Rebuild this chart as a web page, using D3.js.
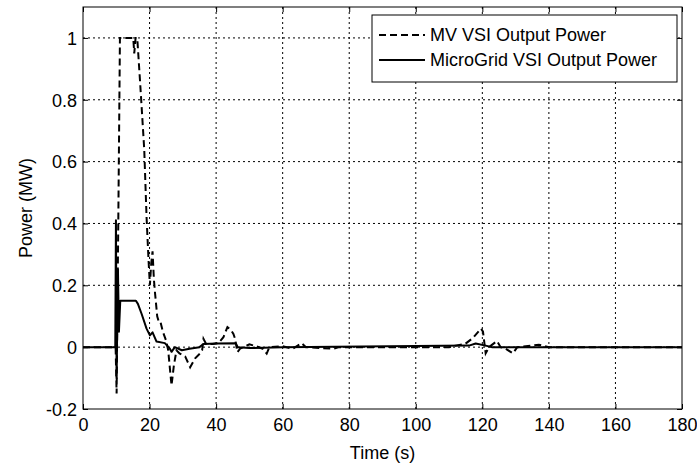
<!DOCTYPE html>
<html>
<head>
<meta charset="utf-8">
<script src="https://cdn.jsdelivr.net/npm/d3@7"></script>
<style>
  body { margin: 0; background: #fff; }
  svg text { font-family: "Liberation Sans", Arial, sans-serif; fill: #000; }
</style>
</head>
<body>
<svg id="chart" width="697" height="466"></svg>
<script>
// values: [time (s), power (MW)]
const mvSeries = [
  [0, 0], [9.8, 0], [10.1, -0.15], [10.6, 0.4], [11.1, 1.0], [15.1, 1.0], [15.4, 0.95],
  [15.8, 1.0], [16.3, 1.0], [17.2, 0.85], [18.4, 0.64], [19.1, 0.42], [19.7, 0.28],
  [20.1, 0.2], [20.5, 0.27], [20.9, 0.31], [21.3, 0.22], [21.6, 0.18], [22.3, 0.1],
  [22.7, 0.085], [23.2, 0.085], [24, 0.05], [25, 0.02], [25.6, -0.01], [26.6, -0.124],
  [27.3, -0.06], [28.1, -0.01], [29, -0.02], [30.7, -0.03], [32.2, -0.065], [33.7, -0.036],
  [35.2, -0.02], [35.8, -0.01], [36.2, 0.027], [37, 0.01], [39, 0.01], [40.7, 0.013],
  [42.2, 0.032], [43.4, 0.065], [44.5, 0.055], [45.2, 0.043], [45.7, 0.027], [46.4, -0.016],
  [47.2, -0.005], [50, 0.009], [52, 0.003], [54, -0.005], [55.2, -0.021], [56, 0],
  [60, 0.003], [63, -0.005], [65.7, 0.013], [67, 0], [75.2, -0.005], [77, 0], [110, 0],
  [112, 0.005], [114.8, 0.01], [117.2, 0.03], [119.6, 0.06], [120.2, 0.05], [121, -0.02],
  [122, 0], [124.4, 0.02], [125.5, 0], [127, -0.005], [129.2, -0.02], [130.5, 0],
  [135, 0.005], [137, 0.008], [140, 0], [180, 0]
];
const mgSeries = [
  [0, 0], [9.7, 0], [9.9, 0.41], [10.1, -0.1], [10.5, 0.25], [10.8, 0.05], [11.2, 0.15],
  [15.9, 0.15], [16.5, 0.14], [17.6, 0.108], [19.1, 0.06], [20.1, 0.038], [20.9, 0.048],
  [22.1, 0.018], [24.6, 0.013], [26.1, -0.005], [26.6, -0.015], [27.6, 0], [29.7, -0.01],
  [32, -0.005], [35, 0], [36.2, 0.01], [40, 0.012], [45.9, 0.013], [46.5, 0], [50, -0.003],
  [60, 0], [116, 0.005], [118, 0.012], [121, 0.005], [123, 0], [180, 0]
];
const xTicks = [0, 20, 40, 60, 80, 100, 120, 140, 160, 180];
const yTicks = [-0.2, 0, 0.2, 0.4, 0.6, 0.8, 1];
const legendLabels = ["MV VSI Output Power", "MicroGrid VSI Output Power"];

const svg = d3.select("#chart");
const margin = { top: 7, right: 15, bottom: 57, left: 83 };
const w = 697 - margin.left - margin.right, h = 466 - margin.top - margin.bottom;
const g = svg.append("g").attr("transform", `translate(${margin.left},${margin.top})`);

const x = d3.scaleLinear().domain([0, 180]).range([0, w]);
const y = d3.scaleLinear().domain([-0.2, 1.1]).range([h, 0]);

// grid
g.append("g").selectAll("line").data(xTicks.slice(1, -1)).enter().append("line")
  .attr("x1", d => x(d)).attr("x2", d => x(d)).attr("y1", 0).attr("y2", h)
  .attr("stroke", "#000").attr("stroke-width", 1).attr("stroke-dasharray", "2,3");
g.append("g").selectAll("line").data(yTicks.slice(1)).enter().append("line")
  .attr("x1", 0).attr("x2", w).attr("y1", d => y(d)).attr("y2", d => y(d))
  .attr("stroke", "#000").attr("stroke-width", 1).attr("stroke-dasharray", "2,3");

// axes, ticks inward on all sides
const fmt = d => String(+d.toFixed(1));
const axB = g.append("g").attr("transform", `translate(0,${h})`)
  .call(d3.axisBottom(x).tickValues(xTicks).tickSize(-5).tickPadding(9).tickFormat(d3.format("d")));
const axL = g.append("g").call(d3.axisLeft(y).tickValues(yTicks).tickSize(-5).tickPadding(6).tickFormat(fmt));
const axT = g.append("g").call(d3.axisTop(x).tickValues(xTicks).tickSize(-5).tickFormat(""));
const axR = g.append("g").attr("transform", `translate(${w},0)`)
  .call(d3.axisRight(y).tickValues(yTicks).tickSize(-5).tickFormat(""));
[axB, axL, axT, axR].forEach(a => {
  a.select(".domain").remove();
  a.selectAll("line").attr("stroke", "#000");
  a.selectAll("text").attr("font-size", 18).style("font-family", null);
});
axL.selectAll("text").attr("dy", "0.35em");
g.append("rect").attr("width", w).attr("height", h)
  .attr("fill", "none").attr("stroke", "#000").attr("stroke-width", 1);

const line = d3.line().x(d => x(d[0])).y(d => y(d[1]));
g.append("path").datum(mgSeries).attr("fill", "none").attr("stroke", "#000")
  .attr("stroke-width", 2).attr("stroke-linejoin", "round").attr("d", line);
g.append("path").datum(mvSeries).attr("fill", "none").attr("stroke", "#000")
  .attr("stroke-width", 2).attr("stroke-dasharray", "7,4").attr("d", line);

// labels
svg.append("text").attr("x", margin.left + w / 2).attr("y", 459).attr("text-anchor", "middle")
  .attr("font-size", 18).text("Time (s)");
svg.append("text").attr("transform", `translate(32,${margin.top + h / 2}) rotate(-90)`)
  .attr("text-anchor", "middle").attr("font-size", 18).text("Power (MW)");

// legend
const lg = svg.append("g").attr("transform", "translate(372,15)");
lg.append("rect").attr("width", 305).attr("height", 67).attr("fill", "#fff").attr("stroke", "#000");
legendLabels.forEach((lab, i) => {
  const ly = 20 + i * 25;
  lg.append("line").attr("x1", 7).attr("x2", 53).attr("y1", ly).attr("y2", ly)
    .attr("stroke", "#000").attr("stroke-width", 2).attr("stroke-dasharray", i === 0 ? "7,4" : null);
  lg.append("text").attr("x", 58).attr("y", ly).attr("dy", "0.35em").attr("font-size", 18).text(lab);
});
</script>
</body>
</html>
